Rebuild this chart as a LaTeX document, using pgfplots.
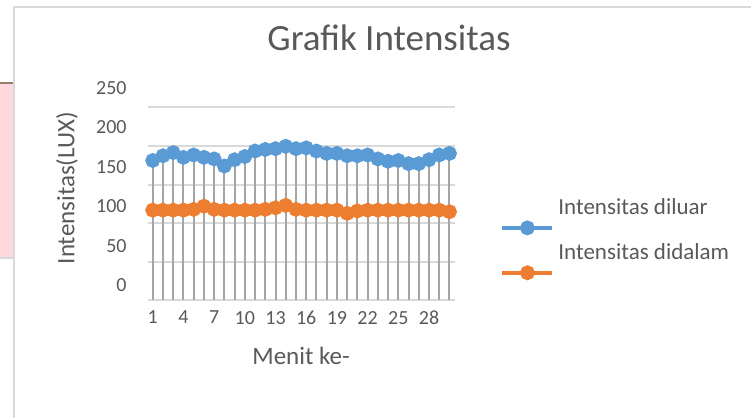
\documentclass[border=0pt]{standalone}
\usepackage{pgfplots}
\pgfplotsset{compat=1.18}
\usepackage{pgfplotstable}
\usepackage{fontspec}
\setmainfont{Carlito}

\definecolor{serBlue}{HTML}{5B9BD5}
\definecolor{serOrange}{HTML}{ED7D31}
\definecolor{gridGray}{HTML}{D9D9D9}
\definecolor{dropGray}{HTML}{A5A5A5}
\definecolor{txt}{HTML}{595959}
\definecolor{pinkBg}{HTML}{FFD9DE}

% menit, intensitas diluar, intensitas didalam (LUX)
\pgfplotstableread{
x  blue orange
1  158  95
2  164  95
3  168  95
4  162  95
5  165  96
6  162  100
7  160  96
8  151  95
9  159  95
10 163  95
11 170  95
12 172  96
13 173  98
14 176  101
15 173  96
16 174  95
17 170  95
18 167  95
19 167  95
20 164  91
21 164  94
22 165  95
23 160  95
24 157  95
25 158  95
26 154  95
27 154  95
28 159  95
29 165  95
30 167  93
}\intens

\begin{document}
\begin{tikzpicture}
\path[use as bounding box] (0,0) rectangle (375.5pt,209pt);
% spreadsheet bits behind the chart
\fill[pinkBg] (0,80pt) rectangle (6.5pt,167.5pt);
\draw[gray!70!brown, line width=0.6pt] (0,167.5pt) -- (6.5pt,167.5pt);
\draw[gridGray, line width=0.6pt] (0,80pt) -- (6.5pt,80pt);
% chart frame
\draw[gridGray, line width=1pt] (375.5pt,205.5pt) -- (7pt,205.5pt) -- (7pt,0);
\node[text=txt, font=\fontsize{18.5}{22}\selectfont] at (194.5pt,190pt) {Grafik Intensitas};

\begin{axis}[
  at={(73.8pt,59pt)}, anchor=south west,
  scale only axis,
  width=153.5pt, height=106pt,
  xmin=0.5, xmax=30.5,
  ymin=-19, ymax=250,
  clip=false,
  xtick={1,4,...,28},
  ytick={0,50,...,250},
  extra y ticks={-19,29.2,78.7,126.9,176.4,225.9},
  extra y tick labels={},
  extra y tick style={grid=major},
  major grid style={draw=gridGray, line width=1pt},
  axis line style={draw=none},
  major tick length=0pt,
  tick label style={text=txt, font=\fontsize{10}{12}\selectfont},
  xticklabel style={yshift=-2pt},
  yticklabel style={xshift=-7pt},
  /pgf/number format/assume math mode=true,
  xlabel={Menit ke-},
  ylabel={Intensitas(LUX)},
  label style={text=txt, font=\fontsize{12.5}{15}\selectfont},
  xlabel style={at={(axis description cs:0.5,0)}, anchor=center, yshift=-28pt},
  ylabel style={at={(axis description cs:-0.2626,0.528)}, anchor=center},
  legend style={at={(axis description cs:1.148,0.50)}, anchor=north west,
    draw=none, fill=none, text=txt, font=\fontsize{11.5}{13}\selectfont,
    row sep=3pt, inner sep=0pt},
  legend cell align=left,
  legend image code/.code={
    \draw[mark repeat=2, mark phase=2, #1] plot coordinates {(0pt,-10pt) (12.5pt,-10pt) (25pt,-10pt)};
  },
]
\addplot[serBlue, line width=2pt, mark=*, mark size=2.7pt, mark options={serBlue}]
  table[x=x, y=blue] {\intens};
\addlegendentry{Intensitas diluar}
\addplot[serOrange, line width=2pt, mark=*, mark size=2.7pt, mark options={serOrange}]
  table[x=x, y=orange] {\intens};
\addlegendentry{Intensitas didalam}
% drop lines from the top series down to the category axis
\addplot[forget plot, draw=none, mark=none,
  error bars/.cd, y dir=minus, y explicit, error mark=none,
  error bar style={dropGray, line width=1pt}]
  table[x=x, y=blue, y error expr=\thisrow{blue}+19] {\intens};
\end{axis}
\end{tikzpicture}
\end{document}
